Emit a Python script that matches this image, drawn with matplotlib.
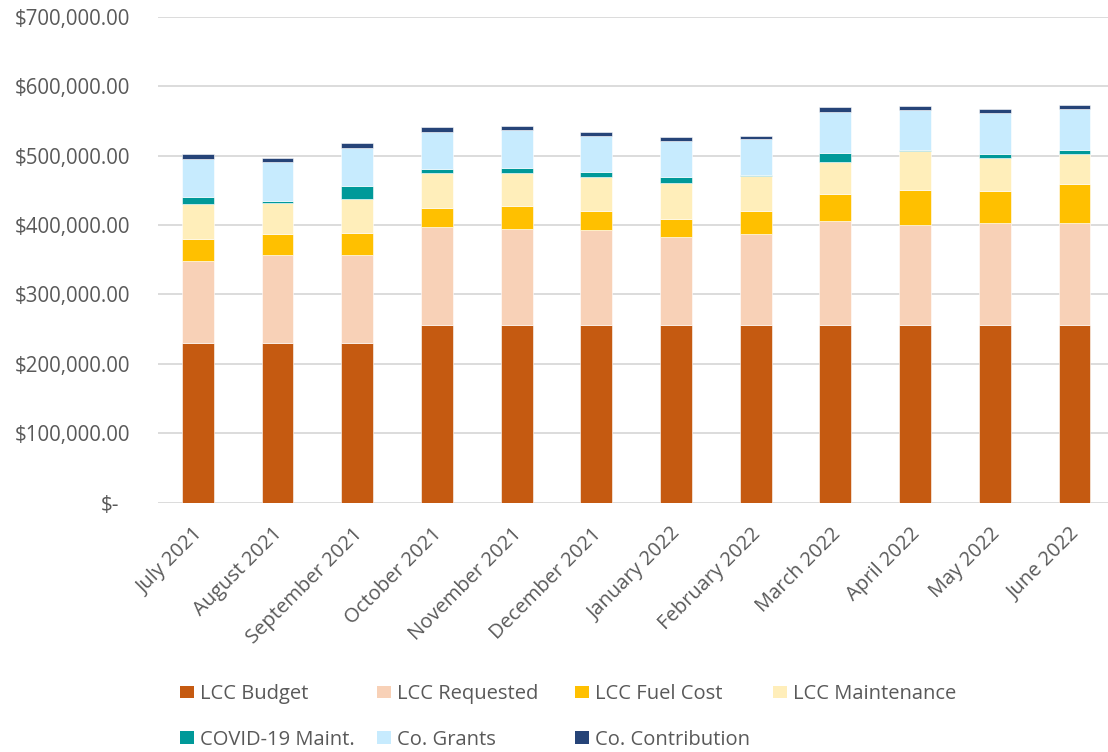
import matplotlib
matplotlib.use("Agg")
import matplotlib.pyplot as plt
import matplotlib.transforms as mtransforms
from matplotlib.patches import Patch
import numpy as np

# months on the x axis
months = ["July 2021", "August 2021", "September 2021", "October 2021",
          "November 2021", "December 2021", "January 2022", "February 2022",
          "March 2022", "April 2022", "May 2022", "June 2022"]

# stacked series, dollars
lcc_budget = [230000, 230000, 230000, 255700, 255700, 255700,
              255700, 255700, 255700, 255700, 255700, 255700]
lcc_requested = [118300, 126500, 126500, 141000, 138600, 136700,
                 126700, 132000, 150700, 144600, 147500, 147800]
lcc_fuel = [31200, 30600, 31600, 27800, 32700, 28100,
            25900, 32800, 37800, 49700, 45300, 55100]
lcc_maint = [50400, 44200, 49400, 49900, 47900, 48200,
             52200, 50100, 47100, 56100, 48500, 44200]
covid_maint = [10400, 3900, 18200, 5800, 7700, 7200,
               8200, 2000, 11900, 1400, 4800, 5700]
co_grants = [54700, 55500, 55100, 53700, 54100, 52800,
             52800, 50800, 60000, 58000, 60000, 58000]
co_contribution = [6800, 6300, 6800, 6700, 6400, 5700,
                   5700, 5300, 6200, 6300, 5700, 5800]

series_names = ["LCC Budget", "LCC Requested", "LCC Fuel Cost", "LCC Maintenance",
                "COVID-19 Maint.", "Co. Grants", "Co. Contribution"]
series_values = [lcc_budget, lcc_requested, lcc_fuel, lcc_maint,
                 covid_maint, co_grants, co_contribution]
colors = ["#C55A11", "#F8D1B7", "#FFC000", "#FFEEBA",
          "#009999", "#C7EBFE", "#264478"]

yticks = [0, 100000, 200000, 300000, 400000, 500000, 600000, 700000]
ytick_labels = ["$-", "$100,000.00", "$200,000.00", "$300,000.00",
                "$400,000.00", "$500,000.00", "$600,000.00", "$700,000.00"]

plt.rcParams['font.family'] = ['Open Sans', 'DejaVu Sans']
text_color = "#595959"

fig = plt.figure(figsize=(11.08, 7.52), dpi=100)
ax = fig.add_axes([0.1426, 0.3315, 0.8631, 0.6463])

x = np.arange(len(months))
bottom = np.zeros(len(months))
handles = []
for name, vals, col in zip(series_names, series_values, colors):
    ax.bar(x, vals, width=0.4, bottom=bottom, color=col,
           edgecolor="white", linewidth=0.4, label=name, zorder=3)
    bottom += np.array(vals)
    handles.append(Patch(facecolor=col, edgecolor="none", label=name))

ax.set_xlim(-0.5, len(months) - 0.5)
ax.set_ylim(0, 700000)
ax.set_yticks(yticks)
ax.set_yticklabels(ytick_labels)
ax.set_xticks(x)
ax.set_xticklabels(months, rotation=45, ha="right", va="top",
                   rotation_mode="anchor")

ax.grid(axis="y", color="#D9D9D9", linewidth=1.3, zorder=0)
ax.set_axisbelow(True)
for s in ax.spines.values():
    s.set_visible(False)
ax.tick_params(axis="y", length=0, colors=text_color, labelsize=14.8, pad=20)
ax.tick_params(axis="x", length=0, colors=text_color, labelsize=14.5, pad=8)

# the "$-" label sits a bit left, like Excel's accounting format
zero_lbl = ax.get_yticklabels()[0]
zero_lbl.set_transform(zero_lbl.get_transform() +
                       mtransforms.ScaledTranslation(-0.11, 0, fig.dpi_scale_trans))

# nudge month labels to sit like the original
for lbl in ax.get_xticklabels():
    lbl.set_transform(lbl.get_transform() +
                      mtransforms.ScaledTranslation(-0.05, -0.10, fig.dpi_scale_trans))

# legend: four equal-width columns, two rows
col_x = [180, 377, 575, 773]
for i, cx in enumerate(col_x):
    fig.legend(handles=handles[i::4], loc="upper left",
               bbox_to_anchor=(cx / 1108, 1 - 684 / 752),
               frameon=False, fontsize=14.5, labelcolor=text_color,
               handlelength=0.7, handleheight=0.6, handletextpad=0.3,
               labelspacing=1.28, borderpad=0, borderaxespad=0)

fig.savefig("out.png", dpi=100)
